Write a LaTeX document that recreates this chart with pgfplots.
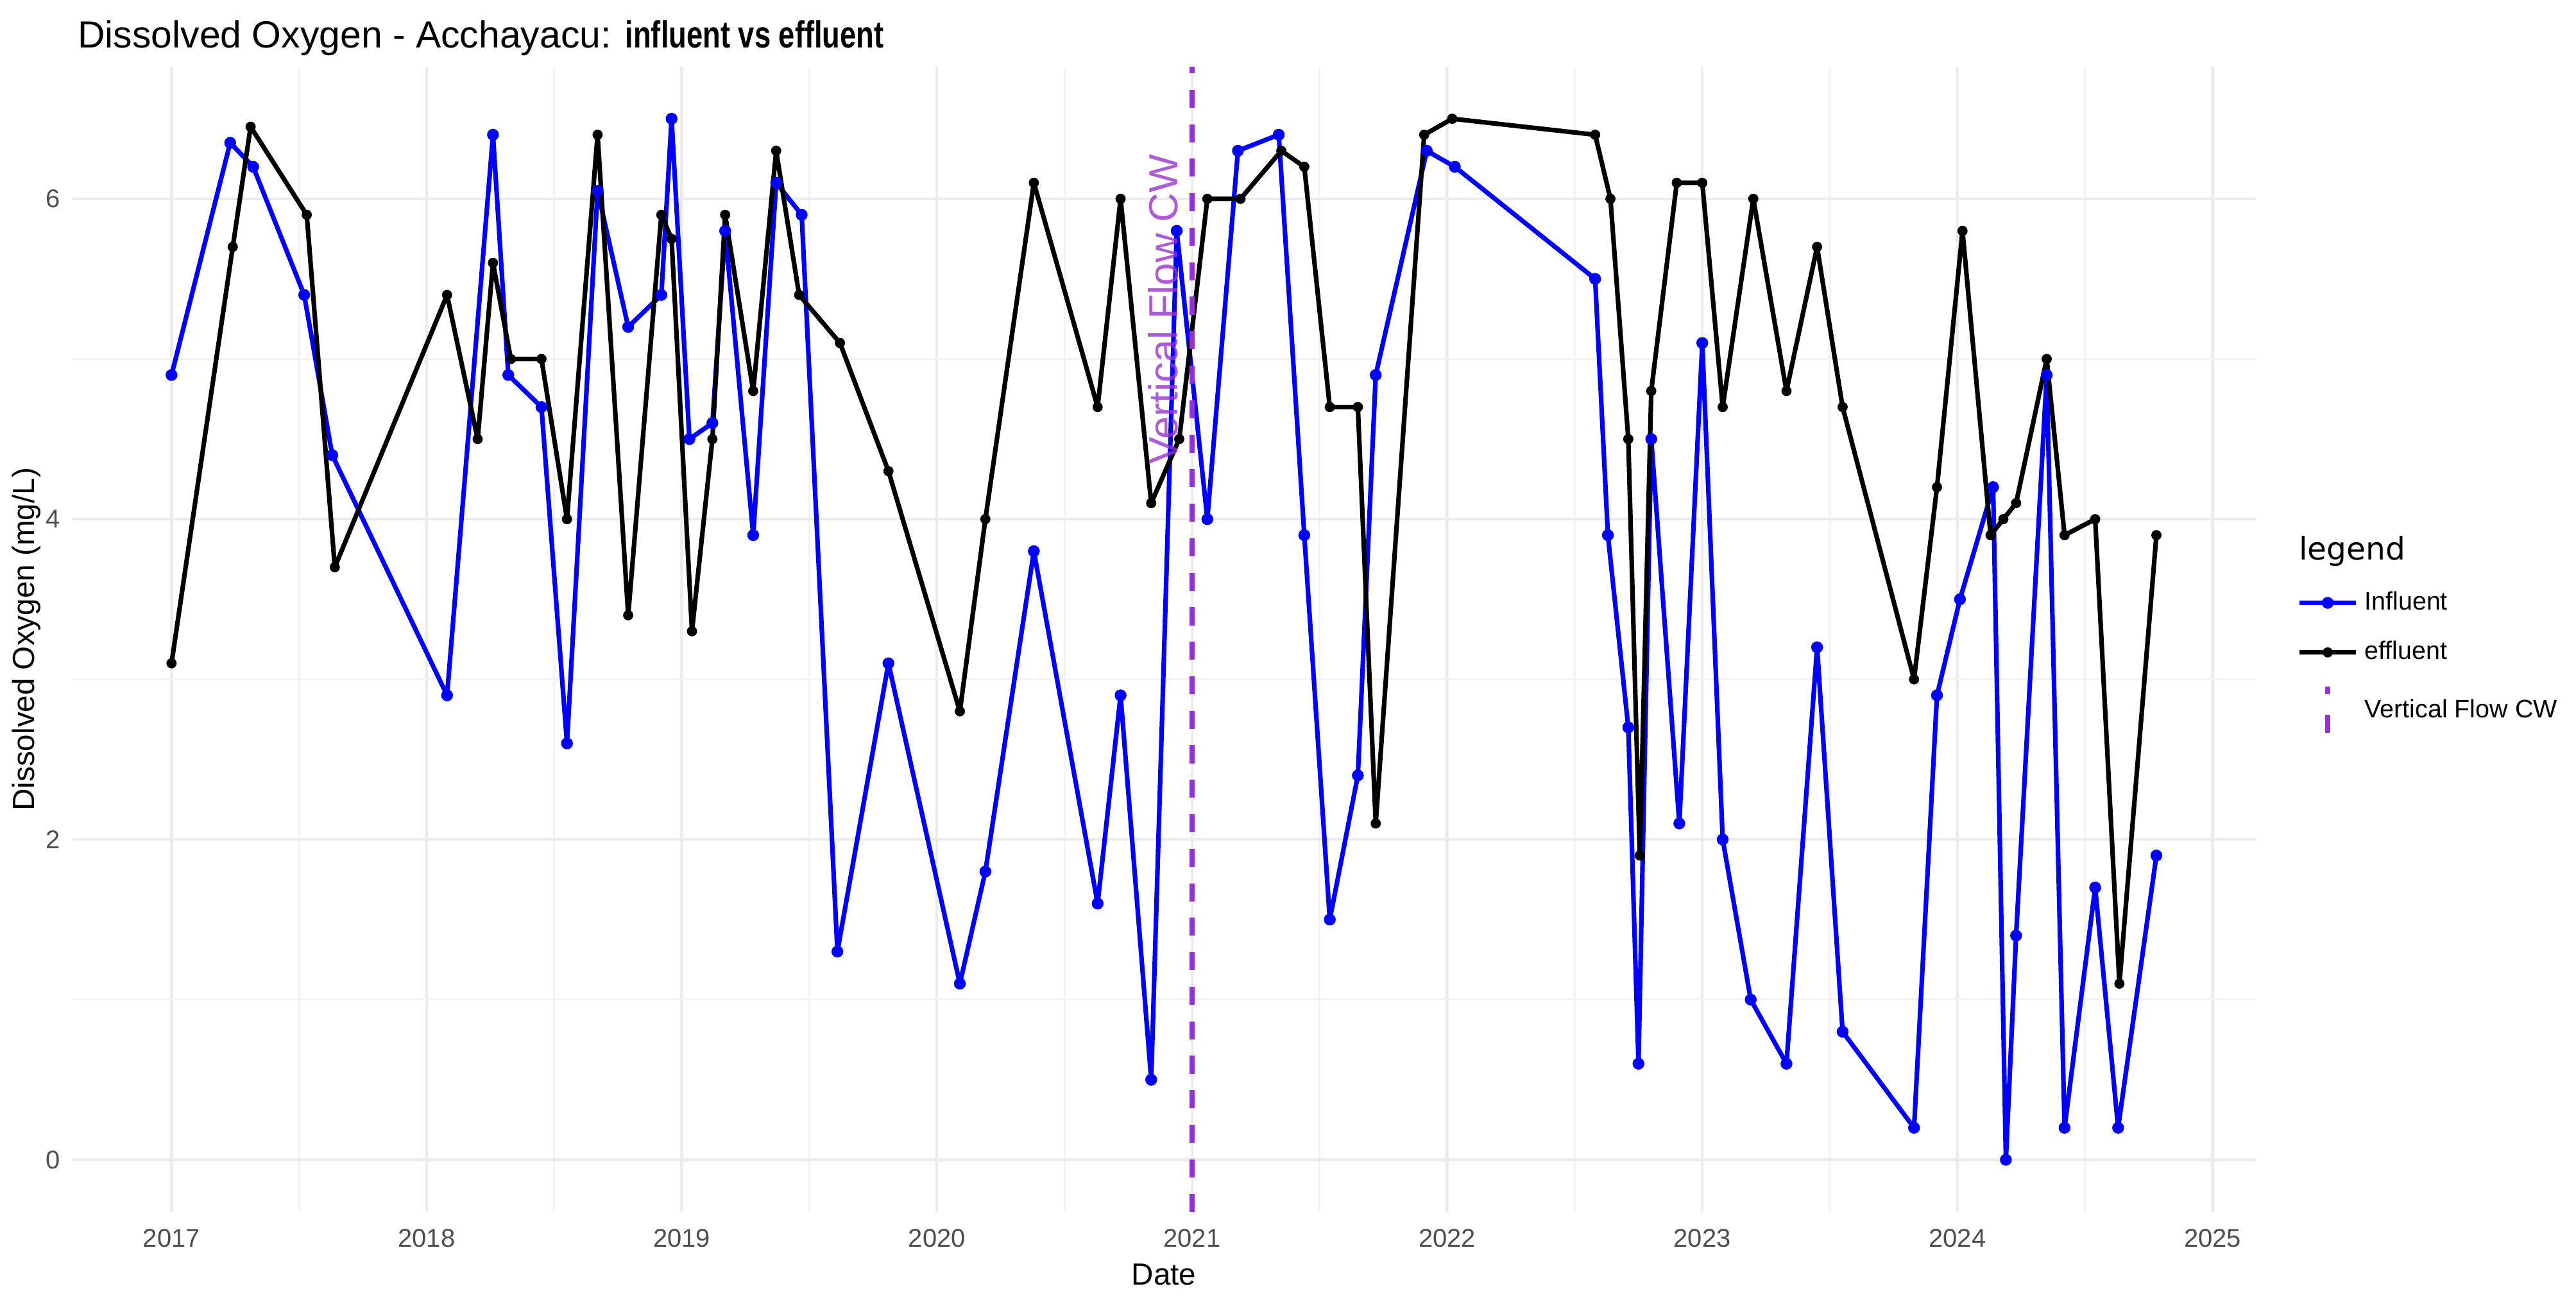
\documentclass[border=0pt]{standalone}
\usepackage{fontspec}
\setmainfont{Liberation Sans}
\newfontfamily\dejavu{DejaVu Sans}
\usepackage{graphicx}
\usepackage{pgfplots}
\usepackage{pgfplotstable}
\pgfplotsset{compat=1.18}
\definecolor{vfc}{HTML}{9932CC}
\definecolor{tickgray}{HTML}{4D4D4D}
\definecolor{gridmaj}{HTML}{EBEBEB}
\definecolor{gridmin}{HTML}{F3F3F3}
\definecolor{infl}{HTML}{0000FF}

\pgfplotstableread{
x y
2017.00 4.9
2017.23 6.35
2017.32 6.2
2017.52 5.4
2017.63 4.4
2018.08 2.9
2018.26 6.4
2018.32 4.9
2018.45 4.7
2018.55 2.6
2018.67 6.05
2018.79 5.2
2018.92 5.4
2018.96 6.5
2019.03 4.5
2019.12 4.6
2019.17 5.8
2019.28 3.9
2019.37 6.1
2019.47 5.9
2019.61 1.3
2019.81 3.1
2020.09 1.1
2020.19 1.8
2020.38 3.8
2020.63 1.6
2020.72 2.9
2020.84 0.5
2020.94 5.8
2021.06 4.0
2021.18 6.3
2021.34 6.4
2021.44 3.9
2021.54 1.5
2021.65 2.4
2021.72 4.9
2021.92 6.3
2022.03 6.2
2022.58 5.5
2022.63 3.9
2022.71 2.7
2022.75 0.6
2022.80 4.5
2022.91 2.1
2023.00 5.1
2023.08 2.0
2023.19 1.0
2023.33 0.6
2023.45 3.2
2023.55 0.8
2023.83 0.2
2023.92 2.9
2024.01 3.5
2024.14 4.2
2024.19 0.0
2024.23 1.4
2024.35 4.9
2024.42 0.2
2024.54 1.7
2024.63 0.2
2024.78 1.9
}\influent

\pgfplotstableread{
x y
2017.00 3.1
2017.24 5.7
2017.31 6.45
2017.53 5.9
2017.64 3.7
2018.08 5.4
2018.20 4.5
2018.26 5.6
2018.33 5.0
2018.45 5.0
2018.55 4.0
2018.67 6.4
2018.79 3.4
2018.92 5.9
2018.96 5.75
2019.04 3.3
2019.12 4.5
2019.17 5.9
2019.28 4.8
2019.37 6.3
2019.46 5.4
2019.62 5.1
2019.81 4.3
2020.09 2.8
2020.19 4.0
2020.38 6.1
2020.63 4.7
2020.72 6.0
2020.84 4.1
2020.95 4.5
2021.06 6.0
2021.19 6.0
2021.35 6.3
2021.44 6.2
2021.54 4.7
2021.65 4.7
2021.72 2.1
2021.91 6.4
2022.02 6.5
2022.58 6.4
2022.64 6.0
2022.71 4.5
2022.755 1.9
2022.80 4.8
2022.90 6.1
2023.00 6.1
2023.08 4.7
2023.20 6.0
2023.33 4.8
2023.45 5.7
2023.55 4.7
2023.83 3.0
2023.92 4.2
2024.02 5.8
2024.13 3.9
2024.18 4.0
2024.23 4.1
2024.35 5.0
2024.42 3.9
2024.54 4.0
2024.635 1.1
2024.78 3.9
}\effluent

\pgfplotstableread{
x y
2021.0 -0.325
2021.0 6.825
}\vline

\begin{document}
\begin{tikzpicture}
\useasboundingbox (-22pt,-26.65pt) rectangle (762pt,368.8pt);
\begin{axis}[
  scale only axis, width=664.5pt, height=348.5pt,
  at={(0,0)}, anchor=south west,
  xmin=2016.611, xmax=2025.169, ymin=-0.325, ymax=6.825,
  axis line style={draw=none},
  major tick length=0pt, minor tick length=0pt,
  xtick={2017,2018,2019,2020,2021,2022,2023,2024,2025},
  xticklabels={2017,2018,2019,2020,2021,2022,2023,2024,2025},
  minor xtick={2017.5,2018.5,2019.5,2020.5,2021.5,2022.5,2023.5,2024.5},
  ytick={0,2,4,6}, yticklabels={0,2,4,6},
  minor ytick={1,3,5},
  grid=both,
  major grid style={draw=gridmaj, line width=0.85pt},
  minor grid style={draw=gridmin, line width=0.6pt},
  xticklabel style={font=\fontsize{7.8}{9}\selectfont, text=tickgray, inner sep=0pt, anchor=north, yshift=-5.1pt},
  yticklabel style={font=\fontsize{7.8}{9}\selectfont, text=tickgray, inner sep=0pt, anchor=east, xshift=-3.5pt},
  xlabel={Date},
  ylabel={Dissolved Oxygen (mg/L)},
  xlabel style={font=\fontsize{9.3}{11}\selectfont, at={(axis description cs:0.5,0)}, anchor=base, yshift=-22.15pt, inner sep=0pt},
  ylabel style={font=\fontsize{9.3}{11}\selectfont, at={(axis description cs:-0.02107,0.5)}, anchor=center, rotate=0, inner sep=0pt},
  legend cell align=left,
  legend style={at={(1.0143,0.554)}, anchor=north west, draw=none, fill=none,
    font=\fontsize{7.7}{9}\selectfont, row sep=4pt, inner xsep=3pt, inner ysep=2pt,
    nodes={inner sep=2pt}},
]
\addplot[infl, line width=1.4pt, line join=round, mark=*, mark size=1.5pt, mark options={solid, fill=infl, draw=infl, line width=0.6pt}] table[x=x,y=y] {\influent};
\addlegendentry{Influent}
\addplot[black, line width=1.4pt, line join=round, mark=*, mark size=1.25pt, mark options={solid, fill=black, line width=0.6pt}] table[x=x,y=y] {\effluent};
\addlegendentry{effluent}
\addplot[vfc, line width=1.6pt, dash pattern=on 5.5pt off 5pt,
  legend image code/.code={
    \draw[vfc, line width=1.6pt] (0.3cm,7.4pt) -- (0.3cm,5pt);
    \draw[vfc, line width=1.6pt] (0.3cm,-1.2pt) -- (0.3cm,-7.4pt);
  }] table[x=x,y=y] {\vline};
\addlegendentry{Vertical Flow CW}
\node[rotate=90, anchor=base, inner sep=0pt, font=\fontsize{12.4}{14}\selectfont, text=vfc, text opacity=0.8] at (axis cs:2020.944,5.31) {Vertical Flow CW};
\end{axis}
\node[anchor=base west, inner sep=0pt, font=\fontsize{11.5}{13}\selectfont] at (1.5pt,354.2pt) {Dissolved Oxygen - Acchayacu: \scalebox{0.77}[1]{\bfseries influent vs effluent}};
\node[anchor=base west, inner sep=0pt, font=\dejavu\fontsize{9.5}{11}\selectfont] at (677.5pt,198.35pt) {legend};
\end{tikzpicture}
\end{document}
